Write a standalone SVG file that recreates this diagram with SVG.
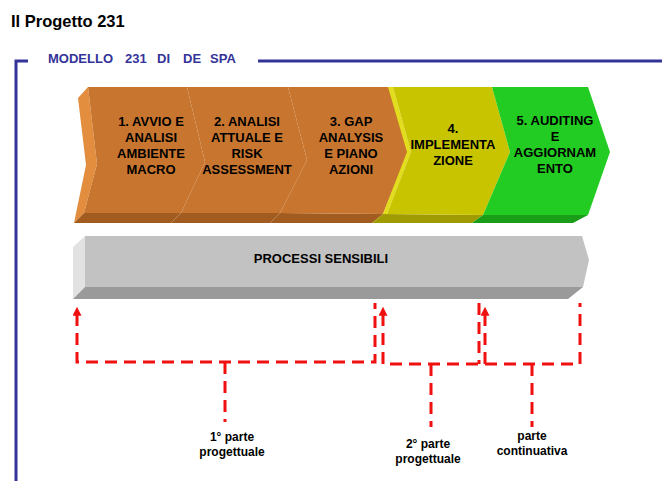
<svg xmlns="http://www.w3.org/2000/svg" width="662" height="481" viewBox="0 0 662 481">
<style>
.t{font-family:"Liberation Sans",Arial,sans-serif;font-weight:bold;fill:#000;text-anchor:middle}
.c{font-size:13px}
.l{font-size:12px}
.dash{fill:none;stroke:#F01010;stroke-width:3;stroke-dasharray:12 7}
.frame{fill:none;stroke:#333399;stroke-width:3}
.of{fill:#C8762F}.os{fill:#E38D3E}.ob{fill:#A25C1F}
.yf{fill:#C9C400}.ys{fill:#E2DE1E}.yb{fill:#A09B00}
.gf{fill:#22CC22}.gb{fill:#1A9E1A}
</style>
<defs>
<marker id="ah" viewBox="0 0 10 10" refX="2" refY="5" markerWidth="3" markerHeight="3" orient="auto-start-reverse" markerUnits="strokeWidth">
<path d="M0,0 L10,5 L0,10 Z" fill="#F01010"/>
</marker>
</defs>
<rect width="662" height="481" fill="#fff"/>
<text x="11" y="27" font-family="Liberation Sans,Arial,sans-serif" font-weight="bold" font-size="16.5">Il Progetto 231</text>
<g id="frame">
<path class="frame" d="M28,61 H16 V481"/>
<path class="frame" d="M258,61 H662"/>
<g font-family="Liberation Sans,Arial,sans-serif" font-weight="bold" font-size="13" fill="#333399">
<text x="48" y="63">MODELLO</text>
<text x="125" y="63">231</text>
<text x="157" y="63">DI</text>
<text x="183" y="63">DE</text>
<text x="210" y="63">SPA</text>
</g>
</g>
<g id="step1">
<polygon class="os" points="88,87 97,164 84,213 74,223 86,165 78,98"/>
<polygon class="ob" points="84,213 181,213 171,223 74,223"/>
<polygon class="of" points="88,87 187,87 205,162 181,213 84,213 97,164"/>
<text class="t c" x="151" y="126">1. AVVIO E</text>
<text class="t c" x="151" y="142">ANALISI</text>
<text class="t c" x="151" y="158">AMBIENTE</text>
<text class="t c" x="151" y="174">MACRO</text>
</g>
<g id="step2">
<polygon class="ob" points="181,213 280,213 270,223 171,223"/>
<polygon class="of" points="187,87 288,87 307,160 280,213 181,213 205,162"/>
<text class="t c" x="247" y="126">2. ANALISI</text>
<text class="t c" x="247" y="142">ATTUALE E</text>
<text class="t c" x="247" y="158">RISK</text>
<text class="t c" x="247" y="174">ASSESSMENT</text>
</g>
<g id="step3">
<polygon class="ob" points="280,213 383,214 372,223 270,223"/>
<polygon class="of" points="288,87 390,87 408,152 383,214 280,213 307,160"/>
<text class="t c" x="351" y="126">3. GAP</text>
<text class="t c" x="351" y="142">ANALYSIS</text>
<text class="t c" x="351" y="158">E PIANO</text>
<text class="t c" x="351" y="174">AZIONI</text>
</g>
<g id="step4">
<polygon class="yb" points="383,214 483,215 472,223 372,223"/>
<polygon class="ys" points="388,87 393,87 411,152 387,214 383,214 407,152"/>
<polygon class="yf" points="393,87 492,87 510,152 483,215 387,214 411,152"/>
<text class="t c" x="453" y="133">4.</text>
<text class="t c" x="453" y="149">IMPLEMENTA</text>
<text class="t c" x="453" y="165">ZIONE</text>
</g>
<g id="step5">
<polygon class="gb" points="483,215 588,215 573,223 472,223"/>
<polygon class="gf" points="492,87 588,87 610,152 588,215 483,215 510,152"/>
<text class="t c" x="555" y="125">5. AUDITING</text>
<text class="t c" x="555" y="141">E</text>
<text class="t c" x="555" y="157">AGGIORNAM</text>
<text class="t c" x="555" y="173">ENTO</text>
</g>
<g id="processi">
<polygon fill="#E2E2E2" points="85,236 73,247 73,299 85,287"/>
<polygon fill="#9A9A9A" points="85,287 583,287 568,299 73,299"/>
<polygon fill="#C2C2C2" points="85,236 582,236 589,260 583,287 85,287"/>
<text class="t c" x="321" y="263">PROCESSI SENSIBILI</text>
</g>
<g id="connectors">
<path class="dash" d="M77,314 V362 H375 V303" marker-start="url(#ah)"/>
<path class="dash" d="M225,362 V422"/>
<path class="dash" d="M383,314 V364 H580 V303" marker-start="url(#ah)"/>
<path class="dash" d="M479,303 V364"/>
<path class="dash" d="M485,314 V364" marker-start="url(#ah)"/>
<path class="dash" d="M431,364 V427"/>
<path class="dash" d="M532,364 V427"/>
</g>
<g id="labels">
<text class="t l" x="232" y="441">1° parte</text>
<text class="t l" x="232" y="456">progettuale</text>
<text class="t l" x="428" y="448">2° parte</text>
<text class="t l" x="428" y="463">progettuale</text>
<text class="t l" x="532" y="440">parte</text>
<text class="t l" x="532" y="455">continuativa</text>
</g>
</svg>
